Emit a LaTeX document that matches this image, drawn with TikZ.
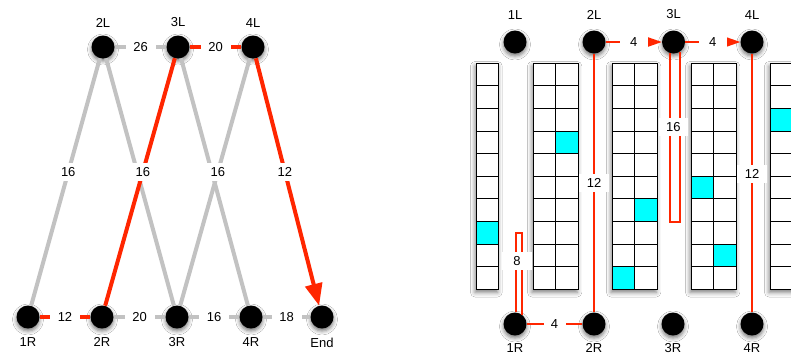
\documentclass[tikz,border=0pt]{standalone}
\usepackage{fontspec}
\setmainfont{Liberation Sans}
\usepackage{tikz}
\usetikzlibrary{arrows.meta,shadows.blur}
\definecolor{route}{HTML}{FF2600}
\definecolor{spare}{HTML}{C2C2C2}
\definecolor{filled}{HTML}{00FFFF}

\tikzset{
  stop/.style={circle,fill=black,minimum size=23pt,inner sep=0pt,
    blur shadow={shadow xshift=0pt,shadow yshift=-2.5pt,shadow blur radius=4pt,shadow opacity=55}},
  every label/.style={font=\fontsize{13}{15}\selectfont,inner sep=3pt},
  weight/.style={fill=white,inner sep=0pt,minimum width=30pt,minimum height=18pt,font=\fontsize{13}{15}\selectfont},
  idle/.style={draw=spare,line width=4pt},
  taken/.style={draw=route,line width=4pt},
  hop/.style={draw=route,line width=2pt},
  detour/.style={draw=route,line width=1.5pt},
  shelf/.style={draw=black,fill=white,line width=0.9pt,
    blur shadow={shadow xshift=-1pt,shadow yshift=-3pt,shadow blur radius=4.5pt,shadow opacity=50}},
  cellline/.style={draw=black,line width=0.9pt},
}

\begin{document}
\begin{tikzpicture}[x=1pt,y=-1pt]
\fill[white] (0,0) rectangle (791,360);
\useasboundingbox (0,0) rectangle (791,360);

% right: the shelves
\foreach \x/\n in {476/1,533/2,612/2,691/2,770/2}
  \draw[shelf] (\x,63) rectangle ++({\n*22.65},226.5);
\foreach \x/\r in {476/7,555.65/3,634.65/6,612/9,691/5,713.65/8,770/2}
  \fill[filled] (\x,{63+\r*22.65}) rectangle ++(22.65,22.65);
\foreach \x/\n in {476/1,533/2,612/2,691/2,770/2}
  \foreach \c in {1,...,\n}
    \foreach \r in {0,...,9}
      \draw[cellline] ({\x+(\c-1)*22.65},{63+\r*22.65}) rectangle ++(22.65,22.65);

% left: the graph of lanes
\node[stop,label={[label distance=5pt]above:2L}] (A2L) at (103,47) {};
\node[stop,label={[label distance=5pt]above:3L}] (A3L) at (178,47) {};
\node[stop,label={[label distance=5pt]above:4L}] (A4L) at (253,47) {};
\node[stop,label={[label distance=6pt]below:1R}] (A1R) at (28,317) {};
\node[stop,label={[label distance=6pt]below:2R}] (A2R) at (102,317) {};
\node[stop,label={[label distance=6pt]below:3R}] (A3R) at (177,317) {};
\node[stop,label={[label distance=6pt]below:4R}] (A4R) at (251,317) {};
\node[stop,label={[label distance=6pt]below:End}] (AEnd) at (322,317) {};

\draw[idle] (A2L) -- (A3R);
\draw[idle] (A3L) -- (A4R);
\draw[idle] (A2L) -- node[weight]{26} (A3L);
\draw[taken] (A3L) -- node[weight]{20} (A4L);
\draw[taken] (A1R) -- node[weight]{12} (A2R);
\draw[idle] (A2R) -- node[weight]{20} (A3R);
\draw[idle] (A3R) -- node[weight]{16} (A4R);
\draw[idle] (A4R) -- node[weight]{18} (AEnd);
\draw[idle] (A1R) -- node[weight,pos=0.54]{16} (A2L);
\draw[taken] (A2R) -- node[weight,pos=0.54]{16} (A3L);
\draw[idle] (A3R) -- node[weight,pos=0.54]{16} (A4L);
\draw[taken,-{Triangle[length=22pt,width=17pt]}] (A4L) -- node[weight,pos=0.46]{12} (AEnd);

% right: the same walk between the shelves
\node[stop,label={[label distance=8pt]above:1L}] (B1L) at (515,42) {};
\node[stop,label={[label distance=8pt]above:2L}] (B2L) at (594,42) {};
\node[stop,label={[label distance=8pt]above:3L}] (B3L) at (673.5,42) {};
\node[stop,label={[label distance=8pt]above:4L}] (B4L) at (752,42) {};
\node[stop,label={[label distance=5pt]below:1R}] (B1R) at (515,324) {};
\node[stop,label={[label distance=5pt]below:2R}] (B2R) at (594,324) {};
\node[stop,label={[label distance=5pt]below:3R}] (B3R) at (673,324) {};
\node[stop,label={[label distance=5pt]below:4R}] (B4R) at (752,324) {};
\coordinate (B3Lturn) at (675,222);
\coordinate (B1Rturn) at (518.7,233);

\draw[hop,-{Triangle[length=18pt,width=12pt]}] (B2L) -- node[weight,minimum width=28pt]{4} (B3L);
\draw[hop,-{Triangle[length=18pt,width=12pt]}] (B3L) -- node[weight,minimum width=28pt]{4} (B4L);
\draw[hop] (B1R) -- node[weight,minimum width=22pt]{4} (B2R);
\draw[hop] (B2L) -- node[weight]{12} (B2R);
\draw[hop] (B4L) -- node[weight,pos=0.465]{12} (B4R);
\draw[detour] (B3L.-108) |- node[weight,pos=0.22,xshift=3.5pt,minimum width=29pt]{16} (B3Lturn) -| (B3L.-56);
\draw[detour] (B1R.85) |- node[weight,pos=0.324,xshift=1pt]{8} (B1Rturn) -| (B1R.54);
\end{tikzpicture}
\end{document}
